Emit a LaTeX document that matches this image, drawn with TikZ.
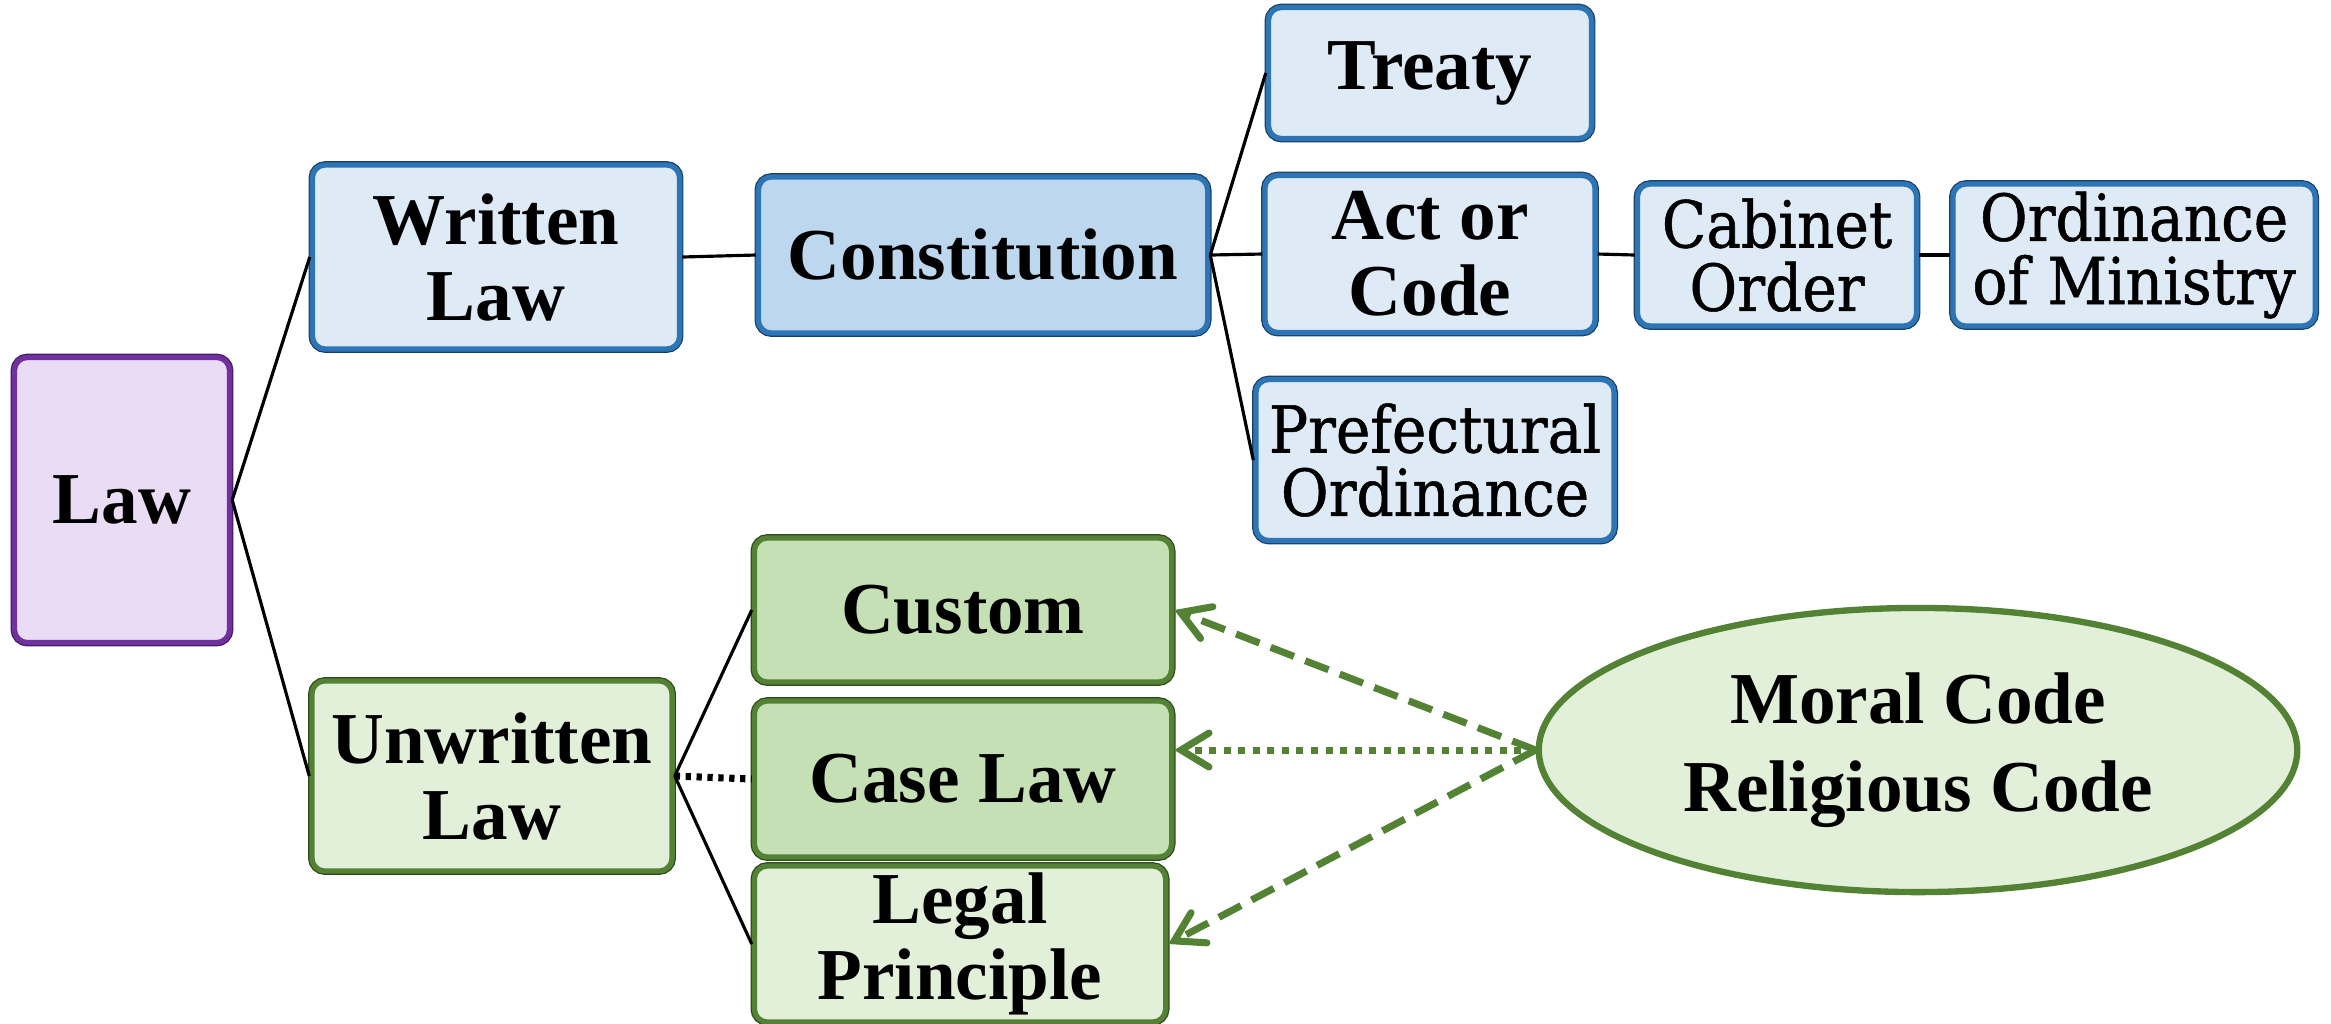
\documentclass[tikz,border=0pt]{standalone}
\usepackage{fontspec}
\newfontfamily\tnr{Liberation Serif}
\newfontfamily\schl{DejaVu Serif Condensed}[FakeBold=0.8]
\usetikzlibrary{arrows.meta,shapes.geometric}

\definecolor{blueedge}{RGB}{46,117,182}
\definecolor{bluefill}{RGB}{222,235,247}
\definecolor{bluemid}{RGB}{189,215,238}
\definecolor{greenedge}{RGB}{84,130,53}
\definecolor{greendark}{RGB}{197,224,180}
\definecolor{greenlight}{RGB}{226,240,217}
\definecolor{purpleedge}{RGB}{112,48,160}
\definecolor{purplefill}{RGB}{234,220,245}

\tikzset{
  box/.style={draw, line width=1.5pt, rounded corners=0.13cm, align=center, inner sep=0pt},
  boldtxt/.style={font={\tnr\bfseries\fontsize{20.8pt}{21.6pt}\selectfont}},
  modtxt/.style={font={\schl\fontsize{18.4pt}{18pt}\selectfont}},
  bluebox/.style={box, draw=blueedge, fill=bluefill,
    preaction={draw=blueedge!55!black, line width=2.2pt}},
  blueboxmid/.style={bluebox, fill=bluemid},
  greenbox/.style={box, draw=greenedge, fill=greenlight,
    preaction={draw=greenedge!55!black, line width=2.2pt}},
  greenboxdark/.style={greenbox, fill=greendark},
  purplebox/.style={box, draw=purpleedge, fill=purplefill,
    preaction={draw=purpleedge!60!black, line width=2.2pt}},
  link/.style={draw=black, line width=0.9pt},
  dotlink/.style={draw=black, line width=2pt, dash pattern=on 1.5pt off 1.6pt},
  influence/.style={draw=greenedge, line width=2pt,
    -{Straight Barb[length=0.28cm,width=0.34cm,line cap=round]}},
  dashedinf/.style={influence, dash pattern=on 0.25cm off 0.12cm},
  dottedinf/.style={influence, dash pattern=on 0.07cm off 0.075cm},
}

\begin{document}
\begin{tikzpicture}[x=0.01cm, y=-0.01cm]
  \useasboundingbox (0,0) rectangle (2331,1023);

  % root
  \node[purplebox, boldtxt, minimum width=2.15cm, minimum height=2.85cm] (law) at (122,500) {Law};

  % written branch
  \node[bluebox, boldtxt, minimum width=3.67cm, minimum height=1.84cm] (wl) at (496,257) {Written\\Law};
  \node[blueboxmid, boldtxt, minimum width=4.49cm, minimum height=1.56cm] (con) at (983,255) {Constitution};
  \node[bluebox, boldtxt, minimum width=3.23cm, minimum height=1.31cm] (tr) at (1430,73) {Treaty};
  \node[bluebox, boldtxt, minimum width=3.30cm, minimum height=1.57cm] (act) at (1430,254) {Act or\\Code};
  \node[bluebox, modtxt, minimum width=2.79cm, minimum height=1.42cm] (cab) at (1777,255) {Cabinet\\Order};
  \node[bluebox, modtxt, minimum width=3.62cm, minimum height=1.42cm] (ord) at (2134,255) {Ordinance\\of Ministry};
  \node[bluebox, modtxt, minimum width=3.58cm, minimum height=1.61cm] (pref) at (1435,460) {Prefectural\\Ordinance};

  % unwritten branch
  \node[greenbox, boldtxt, minimum width=3.60cm, minimum height=1.90cm] (ul) at (492,776) {Unwritten\\Law};
  \node[greenboxdark, boldtxt, minimum width=4.17cm, minimum height=1.44cm] (cus) at (963,610) {Custom};
  \node[greenboxdark, boldtxt, minimum width=4.17cm, minimum height=1.56cm] (cl) at (963,779) {Case Law};
  \node[greenbox, boldtxt, minimum width=4.11cm, minimum height=1.56cm] (lp) at (960,944) {Legal\\Principle};

  % moral and religious codes
  \node[ellipse, draw=greenedge, fill=greenlight, line width=1.8pt, inner sep=0pt,
        minimum width=7.58cm, minimum height=2.84cm, align=center,
        font={\tnr\bfseries\fontsize{20.8pt}{25pt}\selectfont}] (mr) at (1918,750)
        {Moral Code\\Religious Code};

  % hierarchy links
  \draw[link] (law.east) -- (wl.west);
  \draw[link] (law.east) -- (ul.west);
  \draw[link] (wl.east) -- (con.west);
  \draw[link] (con.east) -- (tr.west);
  \draw[link] (con.east) -- (act.west);
  \draw[link] (con.east) -- (pref.west);
  \draw[link] (act.east) -- (cab.west);
  \draw[link] (cab.east) -- (ord.west);
  \draw[link] (ul.east) -- (cus.west);
  \draw[link] (ul.east) -- (lp.west);
  \draw[dotlink] (ul.east) -- (cl.west);

  % influence of moral and religious codes
  \draw[dashedinf] (mr.west) -- (cus.east);
  \draw[dottedinf] (mr.west) -- (cl.east |- mr.west);
  \draw[dashedinf] (mr.west) -- (lp.east);
\end{tikzpicture}
\end{document}
